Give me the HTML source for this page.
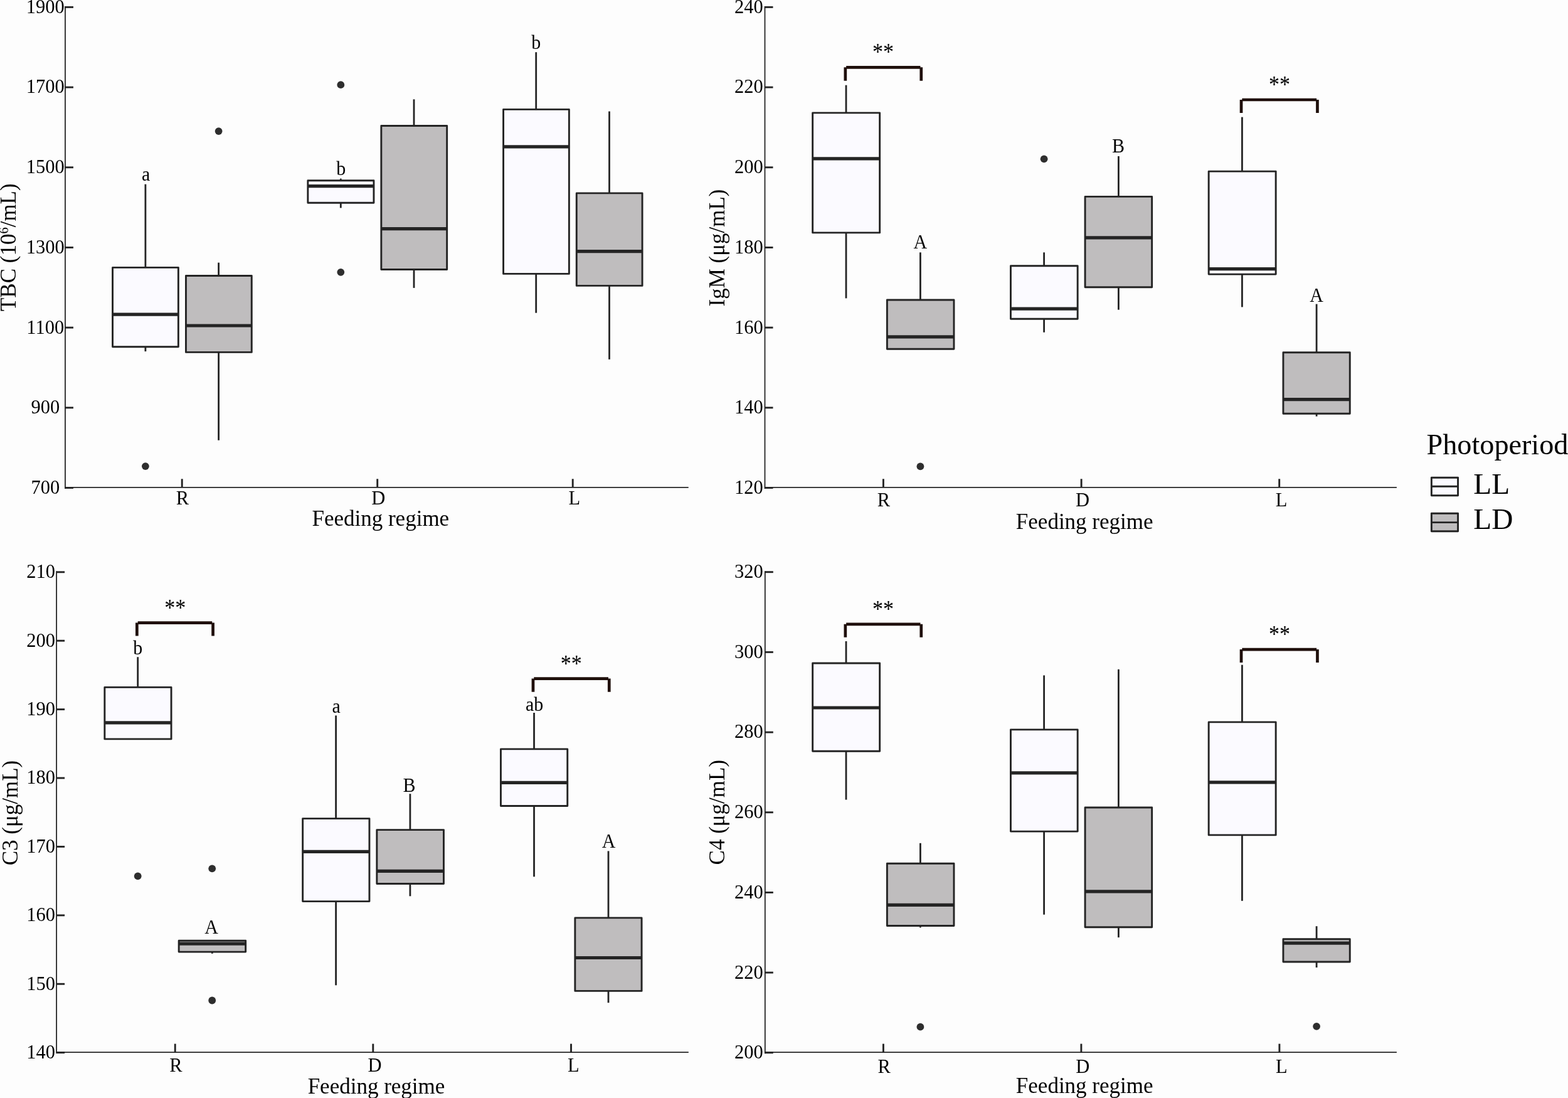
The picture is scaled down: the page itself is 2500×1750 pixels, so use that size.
<!DOCTYPE html>
<html lang="en"><head><meta charset="utf-8"><title>Photoperiod and feeding regime box plots</title>
<style>html,body{margin:0;padding:0;background:#fdfdfd}body{width:2500px;height:1750px;overflow:hidden}svg{display:block}text{font-family:"Liberation Serif","Times New Roman",Times,serif;fill:#000}</style>
</head><body>
<svg xmlns="http://www.w3.org/2000/svg" width="2500" height="1750" viewBox="0 0 2500 1750">
<rect width="2500" height="1750" fill="#fdfdfd"/>
<g id="panelA">
<line x1="103.95" y1="9.95" x2="103.95" y2="778.93" stroke="#242424" stroke-width="1.8"/>
<line x1="103.95" y1="776.9" x2="1097.7" y2="776.9" stroke="#242424" stroke-width="1.8"/>
<line x1="103.95" y1="11.4" x2="116.95" y2="11.4" stroke="#242424" stroke-width="2.9"/>
<text transform="translate(72.3 20.8) scale(1 1.045)" font-size="30.5" text-anchor="middle">1900</text>
<line x1="103.95" y1="139.08" x2="116.95" y2="139.08" stroke="#242424" stroke-width="2.9"/>
<text transform="translate(72.3 148.48) scale(1 1.045)" font-size="30.5" text-anchor="middle">1700</text>
<line x1="103.95" y1="266.76" x2="116.95" y2="266.76" stroke="#242424" stroke-width="2.9"/>
<text transform="translate(72.3 276.16) scale(1 1.045)" font-size="30.5" text-anchor="middle">1500</text>
<line x1="103.95" y1="394.44" x2="116.95" y2="394.44" stroke="#242424" stroke-width="2.9"/>
<text transform="translate(72.3 403.84) scale(1 1.045)" font-size="30.5" text-anchor="middle">1300</text>
<line x1="103.95" y1="522.12" x2="116.95" y2="522.12" stroke="#242424" stroke-width="2.9"/>
<text transform="translate(72.3 531.52) scale(1 1.045)" font-size="30.5" text-anchor="middle">1100</text>
<line x1="103.95" y1="649.8" x2="116.95" y2="649.8" stroke="#242424" stroke-width="2.9"/>
<text transform="translate(72.3 659.2) scale(1 1.045)" font-size="30.5" text-anchor="middle">900</text>
<line x1="103.95" y1="777.48" x2="116.95" y2="777.48" stroke="#242424" stroke-width="2.9"/>
<text transform="translate(72.3 786.88) scale(1 1.045)" font-size="30.5" text-anchor="middle">700</text>
<line x1="290.2" y1="763.3" x2="290.2" y2="776.9" stroke="#242424" stroke-width="2.9"/>
<text transform="translate(290.9 804) scale(1 1.04)" font-size="30.5" text-anchor="middle">R</text>
<line x1="601.7" y1="763.3" x2="601.7" y2="776.9" stroke="#242424" stroke-width="2.9"/>
<text transform="translate(603.2 804) scale(1 1.04)" font-size="30.5" text-anchor="middle">D</text>
<line x1="913.2" y1="763.3" x2="913.2" y2="776.9" stroke="#242424" stroke-width="2.9"/>
<text transform="translate(915.8 804) scale(1 1.04)" font-size="30.5" text-anchor="middle">L</text>
<text transform="translate(24.9 394.2) rotate(-90)" font-size="35" text-anchor="middle">TBC (10<tspan font-size="20.5" dy="-12">6</tspan><tspan dy="12">/mL)</tspan></text>
<text x="606.8" y="837.9" font-size="35" text-anchor="middle">Feeding regime</text>
<line x1="231.9" y1="293.6" x2="231.9" y2="426.2" stroke="#242424" stroke-width="2.8"/>
<line x1="231.9" y1="552.5" x2="231.9" y2="560.1" stroke="#242424" stroke-width="2.8"/>
<rect x="179.55" y="426.4" width="104.8" height="126.3" fill="#fbfaff" stroke="#242424" stroke-width="2.9" stroke-linejoin="round"/>
<line x1="179.55" y1="501.1" x2="284.35" y2="501.1" stroke="#242424" stroke-width="5.2"/>
<line x1="348.6" y1="418.6" x2="348.6" y2="439.3" stroke="#242424" stroke-width="2.8"/>
<line x1="348.6" y1="561.2" x2="348.6" y2="701.7" stroke="#242424" stroke-width="2.8"/>
<rect x="296.45" y="439.5" width="104.8" height="121.9" fill="#bfbdbe" stroke="#242424" stroke-width="2.9" stroke-linejoin="round"/>
<line x1="296.45" y1="519" x2="401.25" y2="519" stroke="#242424" stroke-width="5.2"/>
<line x1="543.3" y1="284.6" x2="543.3" y2="287.5" stroke="#242424" stroke-width="2.8"/>
<line x1="543.3" y1="323" x2="543.3" y2="331.4" stroke="#242424" stroke-width="2.8"/>
<rect x="490.85" y="287.7" width="105.1" height="35.5" fill="#fbfaff" stroke="#242424" stroke-width="2.9" stroke-linejoin="round"/>
<line x1="490.85" y1="296.6" x2="595.95" y2="296.6" stroke="#242424" stroke-width="5.2"/>
<line x1="660" y1="158.3" x2="660" y2="200.3" stroke="#242424" stroke-width="2.8"/>
<line x1="660" y1="429.3" x2="660" y2="458.9" stroke="#242424" stroke-width="2.8"/>
<rect x="607.85" y="200.5" width="104.8" height="229" fill="#bfbdbe" stroke="#242424" stroke-width="2.9" stroke-linejoin="round"/>
<line x1="607.85" y1="364.6" x2="712.65" y2="364.6" stroke="#242424" stroke-width="5.2"/>
<line x1="854.7" y1="83.2" x2="854.7" y2="174.2" stroke="#242424" stroke-width="2.8"/>
<line x1="854.7" y1="436.2" x2="854.7" y2="498.7" stroke="#242424" stroke-width="2.8"/>
<rect x="802.55" y="174.4" width="104.8" height="262" fill="#fbfaff" stroke="#242424" stroke-width="2.9" stroke-linejoin="round"/>
<line x1="802.55" y1="233.9" x2="907.35" y2="233.9" stroke="#242424" stroke-width="5.2"/>
<line x1="971.5" y1="177.5" x2="971.5" y2="307.7" stroke="#242424" stroke-width="2.8"/>
<line x1="971.5" y1="455.2" x2="971.5" y2="572.8" stroke="#242424" stroke-width="2.8"/>
<rect x="919.25" y="307.9" width="104.8" height="147.5" fill="#bfbdbe" stroke="#242424" stroke-width="2.9" stroke-linejoin="round"/>
<line x1="919.25" y1="400.7" x2="1024.05" y2="400.7" stroke="#242424" stroke-width="5.2"/>
<circle cx="231.9" cy="743.1" r="5.9" fill="#2e2e2e"/>
<circle cx="348.6" cy="209.1" r="5.9" fill="#2e2e2e"/>
<circle cx="543.3" cy="135.2" r="5.9" fill="#2e2e2e"/>
<circle cx="543.3" cy="433.8" r="5.9" fill="#2e2e2e"/>
<text transform="translate(232.6 288.4) scale(1 1.055)" font-size="30" text-anchor="middle">a</text>
<text transform="translate(543.7 279.2) scale(1 1.055)" font-size="30" text-anchor="middle">b</text>
<text transform="translate(854.7 78.2) scale(1 1.055)" font-size="30" text-anchor="middle">b</text>
</g>
<g id="panelB">
<line x1="1219.5" y1="9.95" x2="1219.5" y2="778.93" stroke="#242424" stroke-width="1.8"/>
<line x1="1219.5" y1="776.9" x2="2226.9" y2="776.9" stroke="#242424" stroke-width="1.8"/>
<line x1="1219.5" y1="11.4" x2="1232.5" y2="11.4" stroke="#242424" stroke-width="2.9"/>
<text transform="translate(1193.8 20.8) scale(1 1.045)" font-size="30.5" text-anchor="middle">240</text>
<line x1="1219.5" y1="139.08" x2="1232.5" y2="139.08" stroke="#242424" stroke-width="2.9"/>
<text transform="translate(1193.8 148.48) scale(1 1.045)" font-size="30.5" text-anchor="middle">220</text>
<line x1="1219.5" y1="266.76" x2="1232.5" y2="266.76" stroke="#242424" stroke-width="2.9"/>
<text transform="translate(1193.8 276.16) scale(1 1.045)" font-size="30.5" text-anchor="middle">200</text>
<line x1="1219.5" y1="394.44" x2="1232.5" y2="394.44" stroke="#242424" stroke-width="2.9"/>
<text transform="translate(1193.8 403.84) scale(1 1.045)" font-size="30.5" text-anchor="middle">180</text>
<line x1="1219.5" y1="522.12" x2="1232.5" y2="522.12" stroke="#242424" stroke-width="2.9"/>
<text transform="translate(1193.8 531.52) scale(1 1.045)" font-size="30.5" text-anchor="middle">160</text>
<line x1="1219.5" y1="649.8" x2="1232.5" y2="649.8" stroke="#242424" stroke-width="2.9"/>
<text transform="translate(1193.8 659.2) scale(1 1.045)" font-size="30.5" text-anchor="middle">140</text>
<line x1="1219.5" y1="777.48" x2="1232.5" y2="777.48" stroke="#242424" stroke-width="2.9"/>
<text transform="translate(1193.8 786.88) scale(1 1.045)" font-size="30.5" text-anchor="middle">120</text>
<line x1="1408.4" y1="763.3" x2="1408.4" y2="776.9" stroke="#242424" stroke-width="2.9"/>
<text transform="translate(1409 807.3) scale(1 1.04)" font-size="30.5" text-anchor="middle">R</text>
<line x1="1724.1" y1="763.3" x2="1724.1" y2="776.9" stroke="#242424" stroke-width="2.9"/>
<text transform="translate(1725.9 807.3) scale(1 1.04)" font-size="30.5" text-anchor="middle">D</text>
<line x1="2039.7" y1="763.3" x2="2039.7" y2="776.9" stroke="#242424" stroke-width="2.9"/>
<text transform="translate(2043 807.3) scale(1 1.04)" font-size="30.5" text-anchor="middle">L</text>
<text transform="translate(1155.1 395) rotate(-90)" font-size="35" text-anchor="middle">IgM (μg/mL)</text>
<text x="1729.2" y="842.9" font-size="35" text-anchor="middle">Feeding regime</text>
<line x1="1349" y1="135.7" x2="1349" y2="179.7" stroke="#242424" stroke-width="2.8"/>
<line x1="1349" y1="370.7" x2="1349" y2="475.4" stroke="#242424" stroke-width="2.8"/>
<rect x="1295.65" y="179.9" width="107" height="191" fill="#fbfaff" stroke="#242424" stroke-width="2.9" stroke-linejoin="round"/>
<line x1="1295.65" y1="252.8" x2="1402.65" y2="252.8" stroke="#242424" stroke-width="5.2"/>
<line x1="1467.4" y1="402.3" x2="1467.4" y2="477.8" stroke="#242424" stroke-width="2.8"/>
<rect x="1414.35" y="478" width="106.6" height="78.2" fill="#bfbdbe" stroke="#242424" stroke-width="2.9" stroke-linejoin="round"/>
<line x1="1414.35" y1="536.8" x2="1520.95" y2="536.8" stroke="#242424" stroke-width="5.2"/>
<line x1="1664.6" y1="402.3" x2="1664.6" y2="423.6" stroke="#242424" stroke-width="2.8"/>
<line x1="1664.6" y1="508.1" x2="1664.6" y2="529.7" stroke="#242424" stroke-width="2.8"/>
<rect x="1611.45" y="423.8" width="106.7" height="84.5" fill="#fbfaff" stroke="#242424" stroke-width="2.9" stroke-linejoin="round"/>
<line x1="1611.45" y1="492.2" x2="1718.15" y2="492.2" stroke="#242424" stroke-width="5.2"/>
<line x1="1783.4" y1="248.9" x2="1783.4" y2="313.2" stroke="#242424" stroke-width="2.8"/>
<line x1="1783.4" y1="457.6" x2="1783.4" y2="493.7" stroke="#242424" stroke-width="2.8"/>
<rect x="1730.05" y="313.4" width="106.6" height="144.4" fill="#bfbdbe" stroke="#242424" stroke-width="2.9" stroke-linejoin="round"/>
<line x1="1730.05" y1="378.9" x2="1836.65" y2="378.9" stroke="#242424" stroke-width="5.2"/>
<line x1="1980.4" y1="186.6" x2="1980.4" y2="272.9" stroke="#242424" stroke-width="2.8"/>
<line x1="1980.4" y1="436.9" x2="1980.4" y2="489.4" stroke="#242424" stroke-width="2.8"/>
<rect x="1927.15" y="273.1" width="107" height="164" fill="#fbfaff" stroke="#242424" stroke-width="2.9" stroke-linejoin="round"/>
<line x1="1927.15" y1="428.6" x2="2034.15" y2="428.6" stroke="#242424" stroke-width="5.2"/>
<line x1="2099.1" y1="484.6" x2="2099.1" y2="561.5" stroke="#242424" stroke-width="2.8"/>
<line x1="2099.1" y1="659" x2="2099.1" y2="663.6" stroke="#242424" stroke-width="2.8"/>
<rect x="2045.95" y="561.7" width="106.3" height="97.5" fill="#bfbdbe" stroke="#242424" stroke-width="2.9" stroke-linejoin="round"/>
<line x1="2045.95" y1="636.7" x2="2152.25" y2="636.7" stroke="#242424" stroke-width="5.2"/>
<circle cx="1467.4" cy="743.3" r="5.9" fill="#2e2e2e"/>
<circle cx="1664.6" cy="253.3" r="5.9" fill="#2e2e2e"/>
<text transform="translate(1467.2 396.2) scale(1 1.055)" font-size="30" text-anchor="middle">A</text>
<text transform="translate(1783.1 242.6) scale(1 1.055)" font-size="30" text-anchor="middle">B</text>
<text transform="translate(2099.1 480.9) scale(1 1.055)" font-size="30" text-anchor="middle">A</text>
<path d="M1347.85 128.7V107.3M1349.15 107.3H1467.45M1468.75 107.3V128.7" fill="none" stroke="#1f0f0b" stroke-width="4.7"/>
<text transform="translate(1408 95.1) scale(1 1.125)" font-size="34" text-anchor="middle">**</text>
<path d="M1979.05 180V159M1980.35 159H2099.15M2100.45 159V180" fill="none" stroke="#1f0f0b" stroke-width="4.7"/>
<text transform="translate(2039.9 146.7) scale(1 1.125)" font-size="34" text-anchor="middle">**</text>
</g>
<g id="panelC">
<line x1="90.1" y1="910.35" x2="90.1" y2="1679.12" stroke="#242424" stroke-width="1.8"/>
<line x1="90.1" y1="1677.2" x2="1097.8" y2="1677.2" stroke="#242424" stroke-width="1.8"/>
<line x1="90.1" y1="911.8" x2="103.1" y2="911.8" stroke="#242424" stroke-width="2.9"/>
<text transform="translate(65.1 921.2) scale(1 1.045)" font-size="30.5" text-anchor="middle">210</text>
<line x1="90.1" y1="1021.21" x2="103.1" y2="1021.21" stroke="#242424" stroke-width="2.9"/>
<text transform="translate(65.1 1030.61) scale(1 1.045)" font-size="30.5" text-anchor="middle">200</text>
<line x1="90.1" y1="1130.62" x2="103.1" y2="1130.62" stroke="#242424" stroke-width="2.9"/>
<text transform="translate(65.1 1140.02) scale(1 1.045)" font-size="30.5" text-anchor="middle">190</text>
<line x1="90.1" y1="1240.03" x2="103.1" y2="1240.03" stroke="#242424" stroke-width="2.9"/>
<text transform="translate(65.1 1249.43) scale(1 1.045)" font-size="30.5" text-anchor="middle">180</text>
<line x1="90.1" y1="1349.44" x2="103.1" y2="1349.44" stroke="#242424" stroke-width="2.9"/>
<text transform="translate(65.1 1358.84) scale(1 1.045)" font-size="30.5" text-anchor="middle">170</text>
<line x1="90.1" y1="1458.85" x2="103.1" y2="1458.85" stroke="#242424" stroke-width="2.9"/>
<text transform="translate(65.1 1468.25) scale(1 1.045)" font-size="30.5" text-anchor="middle">160</text>
<line x1="90.1" y1="1568.26" x2="103.1" y2="1568.26" stroke="#242424" stroke-width="2.9"/>
<text transform="translate(65.1 1577.66) scale(1 1.045)" font-size="30.5" text-anchor="middle">150</text>
<line x1="90.1" y1="1677.67" x2="103.1" y2="1677.67" stroke="#242424" stroke-width="2.9"/>
<text transform="translate(65.1 1687.07) scale(1 1.045)" font-size="30.5" text-anchor="middle">140</text>
<line x1="279.2" y1="1663.6" x2="279.2" y2="1677.2" stroke="#242424" stroke-width="2.9"/>
<text transform="translate(280.4 1708.1) scale(1 1.04)" font-size="30.5" text-anchor="middle">R</text>
<line x1="594.8" y1="1663.6" x2="594.8" y2="1677.2" stroke="#242424" stroke-width="2.9"/>
<text transform="translate(597.4 1708.1) scale(1 1.04)" font-size="30.5" text-anchor="middle">D</text>
<line x1="910.5" y1="1663.6" x2="910.5" y2="1677.2" stroke="#242424" stroke-width="2.9"/>
<text transform="translate(914.2 1708.1) scale(1 1.04)" font-size="30.5" text-anchor="middle">L</text>
<text transform="translate(27.9 1295.5) rotate(-90)" font-size="35" text-anchor="middle">C3 (μg/mL)</text>
<text x="600" y="1743" font-size="35" text-anchor="middle">Feeding regime</text>
<line x1="219.7" y1="1047.2" x2="219.7" y2="1095.2" stroke="#242424" stroke-width="2.8"/>
<rect x="166.85" y="1095.4" width="106.2" height="82.5" fill="#fbfaff" stroke="#242424" stroke-width="2.9" stroke-linejoin="round"/>
<line x1="166.85" y1="1151.8" x2="273.05" y2="1151.8" stroke="#242424" stroke-width="5.2"/>
<line x1="338.3" y1="1516.9" x2="338.3" y2="1519.8" stroke="#242424" stroke-width="2.8"/>
<rect x="285.15" y="1499.2" width="106.5" height="17.9" fill="#bfbdbe" stroke="#242424" stroke-width="2.9" stroke-linejoin="round"/>
<line x1="285.15" y1="1504.1" x2="391.65" y2="1504.1" stroke="#242424" stroke-width="5.2"/>
<line x1="535.6" y1="1140.4" x2="535.6" y2="1304.4" stroke="#242424" stroke-width="2.8"/>
<line x1="535.6" y1="1436.4" x2="535.6" y2="1570.3" stroke="#242424" stroke-width="2.8"/>
<rect x="482.65" y="1304.6" width="106.3" height="132" fill="#fbfaff" stroke="#242424" stroke-width="2.9" stroke-linejoin="round"/>
<line x1="482.65" y1="1357.3" x2="588.95" y2="1357.3" stroke="#242424" stroke-width="5.2"/>
<line x1="653.9" y1="1265.2" x2="653.9" y2="1322.4" stroke="#242424" stroke-width="2.8"/>
<line x1="653.9" y1="1408.3" x2="653.9" y2="1428.3" stroke="#242424" stroke-width="2.8"/>
<rect x="600.85" y="1322.6" width="106.6" height="85.9" fill="#bfbdbe" stroke="#242424" stroke-width="2.9" stroke-linejoin="round"/>
<line x1="600.85" y1="1388.4" x2="707.45" y2="1388.4" stroke="#242424" stroke-width="5.2"/>
<line x1="851.5" y1="1136" x2="851.5" y2="1193.7" stroke="#242424" stroke-width="2.8"/>
<line x1="851.5" y1="1284.3" x2="851.5" y2="1397.3" stroke="#242424" stroke-width="2.8"/>
<rect x="798.45" y="1193.9" width="106.3" height="90.6" fill="#fbfaff" stroke="#242424" stroke-width="2.9" stroke-linejoin="round"/>
<line x1="798.45" y1="1247.3" x2="904.75" y2="1247.3" stroke="#242424" stroke-width="5.2"/>
<line x1="970" y1="1356.4" x2="970" y2="1462.7" stroke="#242424" stroke-width="2.8"/>
<line x1="970" y1="1579.2" x2="970" y2="1598.2" stroke="#242424" stroke-width="2.8"/>
<rect x="916.85" y="1462.9" width="106.2" height="116.5" fill="#bfbdbe" stroke="#242424" stroke-width="2.9" stroke-linejoin="round"/>
<line x1="916.85" y1="1526.5" x2="1023.05" y2="1526.5" stroke="#242424" stroke-width="5.2"/>
<circle cx="219.7" cy="1396.3" r="5.9" fill="#2e2e2e"/>
<circle cx="338.2" cy="1384.3" r="5.9" fill="#2e2e2e"/>
<circle cx="338.2" cy="1594.5" r="5.9" fill="#2e2e2e"/>
<text transform="translate(219.7 1043.1) scale(1 1.055)" font-size="30" text-anchor="middle">b</text>
<text transform="translate(337 1487.5) scale(1 1.055)" font-size="30" text-anchor="middle">A</text>
<text transform="translate(536.1 1136.3) scale(1 1.055)" font-size="30" text-anchor="middle">a</text>
<text transform="translate(652.6 1262.1) scale(1 1.055)" font-size="30" text-anchor="middle">B</text>
<text transform="translate(852.2 1132.6) scale(1 1.055)" font-size="30" text-anchor="middle">ab</text>
<text transform="translate(970.6 1351.4) scale(1 1.055)" font-size="30" text-anchor="middle">A</text>
<path d="M218.35 1013.6V992.6M219.65 992.6H338.25M339.55 992.6V1013.6" fill="none" stroke="#1f0f0b" stroke-width="4.7"/>
<text transform="translate(279.2 980.5) scale(1 1.125)" font-size="34" text-anchor="middle">**</text>
<path d="M849.95 1102.8V1081.6M851.25 1081.6H969.95M971.25 1081.6V1102.8" fill="none" stroke="#1f0f0b" stroke-width="4.7"/>
<text transform="translate(910.7 1070.4) scale(1 1.125)" font-size="34" text-anchor="middle">**</text>
</g>
<g id="panelD">
<line x1="1219.8" y1="910.25" x2="1219.8" y2="1679.23" stroke="#242424" stroke-width="1.8"/>
<line x1="1219.8" y1="1677.2" x2="2226.9" y2="1677.2" stroke="#242424" stroke-width="1.8"/>
<line x1="1219.8" y1="911.7" x2="1232.8" y2="911.7" stroke="#242424" stroke-width="2.9"/>
<text transform="translate(1193.8 921.1) scale(1 1.045)" font-size="30.5" text-anchor="middle">320</text>
<line x1="1219.8" y1="1039.38" x2="1232.8" y2="1039.38" stroke="#242424" stroke-width="2.9"/>
<text transform="translate(1193.8 1048.78) scale(1 1.045)" font-size="30.5" text-anchor="middle">300</text>
<line x1="1219.8" y1="1167.06" x2="1232.8" y2="1167.06" stroke="#242424" stroke-width="2.9"/>
<text transform="translate(1193.8 1176.46) scale(1 1.045)" font-size="30.5" text-anchor="middle">280</text>
<line x1="1219.8" y1="1294.74" x2="1232.8" y2="1294.74" stroke="#242424" stroke-width="2.9"/>
<text transform="translate(1193.8 1304.14) scale(1 1.045)" font-size="30.5" text-anchor="middle">260</text>
<line x1="1219.8" y1="1422.42" x2="1232.8" y2="1422.42" stroke="#242424" stroke-width="2.9"/>
<text transform="translate(1193.8 1431.82) scale(1 1.045)" font-size="30.5" text-anchor="middle">240</text>
<line x1="1219.8" y1="1550.1" x2="1232.8" y2="1550.1" stroke="#242424" stroke-width="2.9"/>
<text transform="translate(1193.8 1559.5) scale(1 1.045)" font-size="30.5" text-anchor="middle">220</text>
<line x1="1219.8" y1="1677.78" x2="1232.8" y2="1677.78" stroke="#242424" stroke-width="2.9"/>
<text transform="translate(1193.8 1687.18) scale(1 1.045)" font-size="30.5" text-anchor="middle">200</text>
<line x1="1408.4" y1="1663.6" x2="1408.4" y2="1677.2" stroke="#242424" stroke-width="2.9"/>
<text transform="translate(1409.6 1709.8) scale(1 1.04)" font-size="30.5" text-anchor="middle">R</text>
<line x1="1723.9" y1="1663.6" x2="1723.9" y2="1677.2" stroke="#242424" stroke-width="2.9"/>
<text transform="translate(1726.3 1709.8) scale(1 1.04)" font-size="30.5" text-anchor="middle">D</text>
<line x1="2039.9" y1="1663.6" x2="2039.9" y2="1677.2" stroke="#242424" stroke-width="2.9"/>
<text transform="translate(2043.4 1709.8) scale(1 1.04)" font-size="30.5" text-anchor="middle">L</text>
<text transform="translate(1155.1 1294.7) rotate(-90)" font-size="35" text-anchor="middle">C4 (μg/mL)</text>
<text x="1729.2" y="1741.7" font-size="35" text-anchor="middle">Feeding regime</text>
<line x1="1349" y1="1022" x2="1349" y2="1056.8" stroke="#242424" stroke-width="2.8"/>
<line x1="1349" y1="1197" x2="1349" y2="1274.6" stroke="#242424" stroke-width="2.8"/>
<rect x="1295.65" y="1057" width="107" height="140.2" fill="#fbfaff" stroke="#242424" stroke-width="2.9" stroke-linejoin="round"/>
<line x1="1295.65" y1="1128" x2="1402.65" y2="1128" stroke="#242424" stroke-width="5.2"/>
<line x1="1467.4" y1="1343.8" x2="1467.4" y2="1376" stroke="#242424" stroke-width="2.8"/>
<line x1="1467.4" y1="1475.3" x2="1467.4" y2="1478.4" stroke="#242424" stroke-width="2.8"/>
<rect x="1414.35" y="1376.2" width="106.6" height="99.3" fill="#bfbdbe" stroke="#242424" stroke-width="2.9" stroke-linejoin="round"/>
<line x1="1414.35" y1="1442.4" x2="1520.95" y2="1442.4" stroke="#242424" stroke-width="5.2"/>
<line x1="1664.6" y1="1076.4" x2="1664.6" y2="1162.7" stroke="#242424" stroke-width="2.8"/>
<line x1="1664.6" y1="1324.9" x2="1664.6" y2="1457.7" stroke="#242424" stroke-width="2.8"/>
<rect x="1611.45" y="1162.9" width="106.7" height="162.2" fill="#fbfaff" stroke="#242424" stroke-width="2.9" stroke-linejoin="round"/>
<line x1="1611.45" y1="1231.9" x2="1718.15" y2="1231.9" stroke="#242424" stroke-width="5.2"/>
<line x1="1783.4" y1="1066.8" x2="1783.4" y2="1286.8" stroke="#242424" stroke-width="2.8"/>
<line x1="1783.4" y1="1477.5" x2="1783.4" y2="1494.1" stroke="#242424" stroke-width="2.8"/>
<rect x="1730.05" y="1287" width="106.6" height="190.7" fill="#bfbdbe" stroke="#242424" stroke-width="2.9" stroke-linejoin="round"/>
<line x1="1730.05" y1="1420.9" x2="1836.65" y2="1420.9" stroke="#242424" stroke-width="5.2"/>
<line x1="1980.4" y1="1059.7" x2="1980.4" y2="1150.7" stroke="#242424" stroke-width="2.8"/>
<line x1="1980.4" y1="1330.7" x2="1980.4" y2="1435.8" stroke="#242424" stroke-width="2.8"/>
<rect x="1927.15" y="1150.9" width="107" height="180" fill="#fbfaff" stroke="#242424" stroke-width="2.9" stroke-linejoin="round"/>
<line x1="1927.15" y1="1246.9" x2="2034.15" y2="1246.9" stroke="#242424" stroke-width="5.2"/>
<line x1="2099.1" y1="1476.2" x2="2099.1" y2="1496.5" stroke="#242424" stroke-width="2.8"/>
<line x1="2099.1" y1="1532.8" x2="2099.1" y2="1542" stroke="#242424" stroke-width="2.8"/>
<rect x="2045.95" y="1496.7" width="106.3" height="36.3" fill="#bfbdbe" stroke="#242424" stroke-width="2.9" stroke-linejoin="round"/>
<line x1="2045.95" y1="1503.2" x2="2152.25" y2="1503.2" stroke="#242424" stroke-width="5.2"/>
<circle cx="1467.4" cy="1636.7" r="5.9" fill="#2e2e2e"/>
<circle cx="2099.1" cy="1635.8" r="5.9" fill="#2e2e2e"/>
<path d="M1347.85 1015.8V994.8M1349.15 994.8H1467.45M1468.75 994.8V1015.8" fill="none" stroke="#1f0f0b" stroke-width="4.7"/>
<text transform="translate(1408 982.7) scale(1 1.125)" font-size="34" text-anchor="middle">**</text>
<path d="M1979.05 1056V1035.1M1980.35 1035.1H2099.15M2100.45 1035.1V1056" fill="none" stroke="#1f0f0b" stroke-width="4.7"/>
<text transform="translate(2039.9 1023) scale(1 1.125)" font-size="34" text-anchor="middle">**</text>
</g>
<g id="legend">
<text x="2274.6" y="723.9" font-size="46.2" text-anchor="start">Photoperiod</text>
<rect x="2282.35" y="761.3" width="42.2" height="28.5" fill="#fbfaff" stroke="#242424" stroke-width="2.9" stroke-linejoin="round"/>
<line x1="2282.35" y1="775.3" x2="2324.55" y2="775.3" stroke="#242424" stroke-width="2.9"/>
<rect x="2282.35" y="818.3" width="42.2" height="28.4" fill="#bfbdbe" stroke="#242424" stroke-width="2.9" stroke-linejoin="round"/>
<line x1="2282.35" y1="832.6" x2="2324.55" y2="832.6" stroke="#242424" stroke-width="2.9"/>
<text x="2349.3" y="786.5" font-size="47.3" text-anchor="start">LL</text>
<text x="2349.3" y="843" font-size="47.3" text-anchor="start">LD</text>
</g>
</svg></body></html>
